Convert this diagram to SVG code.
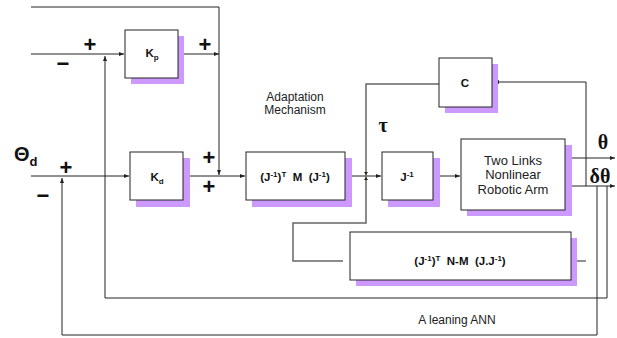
<svg xmlns="http://www.w3.org/2000/svg" width="617" height="338" viewBox="0 0 617 338">
<style>
.box{fill:#fff;stroke:#222;stroke-width:1}
.sh{fill:#cc99ff}
.ln{fill:none;stroke:#222;stroke-width:1}
.gl{fill:none;stroke:#666;stroke-width:1.5}
.lb{font-family:"Liberation Sans",Arial,sans-serif;font-weight:bold;font-size:11.5px;fill:#111;text-anchor:middle;white-space:pre}
.tx{font-family:"Liberation Sans",Arial,sans-serif;font-size:13px;fill:#222;text-anchor:middle}
.sm{font-family:"Liberation Sans",Arial,sans-serif;font-size:12px;fill:#222;text-anchor:middle}
.pm{font-family:"Liberation Sans",Arial,sans-serif;font-weight:bold;font-size:22px;fill:#111;text-anchor:middle}
.gr{font-family:"Liberation Serif","Times New Roman",serif;font-weight:bold;font-size:20px;fill:#111;text-anchor:middle}
</style>
<defs>
<marker id="ah" markerUnits="userSpaceOnUse" markerWidth="6" markerHeight="5" refX="5" refY="2" orient="auto">
<path d="M0,0 L5,2 L0,4 z" fill="#222"/>
</marker>
</defs>

<g id="connectors">
<path class="ln" d="M31,7 H219 V175" marker-end="url(#ah)"/>
<path class="ln" d="M31,54 H124" marker-end="url(#ah)"/>
<path class="ln" d="M178,54 H219" marker-end="url(#ah)"/>
<path class="ln" d="M607,186 V298 H105 V56" marker-end="url(#ah)"/>
<path class="ln" d="M31,176 H129" marker-end="url(#ah)"/>
<path class="ln" d="M183,176 H245" marker-end="url(#ah)"/>
<path class="ln" d="M597,186 V335 H62 V178" marker-end="url(#ah)"/>
<path class="ln" d="M345,176 H381" marker-end="url(#ah)"/>
<path class="gl" d="M439,84 H366 V223 H293 V261 H343"/>
<path class="ln" d="M433,176 H460" marker-end="url(#ah)"/>
<path class="ln" d="M565,158 H615" marker-end="url(#ah)"/>
<path class="ln" d="M565,186 H615" marker-end="url(#ah)"/>
<path class="ln" d="M586,186 V82 H494" marker-end="url(#ah)"/>
<path class="ln" d="M586,261 H572" marker-end="url(#ah)"/>
<path d="M364,172 L368,172 L366,175 z M364,180 L368,180 L366,177 z" fill="#222"/>
</g>

<g id="Kp">
<rect class="sh" x="131" y="36" width="53" height="48"/>
<rect class="box" x="125" y="30" width="53" height="48"/>
<text class="lb" x="152" y="57" font-size="12">K<tspan font-size="8" dy="3">p</tspan></text>
</g>

<g id="Kd">
<rect class="sh" x="136" y="158" width="54" height="49"/>
<rect class="box" x="130" y="152" width="53" height="48"/>
<text class="lb" x="157" y="181" font-size="12">K<tspan font-size="8" dy="3">d</tspan></text>
</g>

<g id="M">
<rect class="sh" x="252" y="158" width="100" height="49"/>
<rect class="box" x="246" y="152" width="99" height="48"/>
<text class="lb" x="295" y="181">(J<tspan font-size="8" dy="-4">-1</tspan><tspan dy="4">)</tspan><tspan font-size="8" dy="-4">T</tspan><tspan dy="4">  M  (J</tspan><tspan font-size="8" dy="-4">-1</tspan><tspan dy="4">)</tspan></text>
</g>

<g id="Jinv">
<rect class="sh" x="388" y="158" width="52" height="49"/>
<rect class="box" x="382" y="152" width="51" height="48"/>
<text class="lb" x="407" y="181">J<tspan font-size="8" dy="-4">-1</tspan></text>
</g>

<g id="C">
<rect class="sh" x="445" y="64" width="53" height="49"/>
<rect class="box" x="439" y="58" width="53" height="49"/>
<text class="lb" x="465" y="87" font-size="12">C</text>
</g>

<g id="Arm">
<rect class="sh" x="467" y="145" width="105" height="71"/>
<rect class="box" x="461" y="139" width="104" height="71"/>
<text class="tx" x="513" y="165">Two Links</text>
<text class="tx" x="513" y="179">Nonlinear</text>
<text class="tx" x="513" y="194">Robotic Arm</text>
</g>

<g id="NM">
<rect class="sh" x="356" y="238" width="221" height="48"/>
<rect class="box" x="350" y="232" width="221" height="48"/>
<text class="lb" x="460" y="265">(J<tspan font-size="8" dy="-4">-1</tspan><tspan dy="4">)</tspan><tspan font-size="8" dy="-4">T</tspan><tspan dy="4">  N-M  (J.J</tspan><tspan font-size="8" dy="-4">-1</tspan><tspan dy="4">)</tspan></text>
</g>

<g id="labels">
<text x="14" y="161" font-family="'Liberation Sans',Arial,sans-serif" font-weight="bold" font-size="20" fill="#111">Θ<tspan font-size="13" dy="5">d</tspan></text>
<text class="pm" x="90" y="52">+</text>
<text class="pm" x="63" y="71">−</text>
<text class="pm" x="205" y="52">+</text>
<text class="pm" x="66" y="175">+</text>
<text class="pm" x="43" y="203">−</text>
<text class="pm" x="209" y="165">+</text>
<text class="pm" x="209" y="194">+</text>
<text class="sm" x="295" y="101">Adaptation</text>
<text class="sm" x="295" y="114">Mechanism</text>
<text class="gr" x="383" y="132" font-size="19">τ</text>
<text class="gr" x="603" y="149">θ</text>
<text class="gr" x="600" y="183">δθ</text>
<text class="sm" x="457" y="324">A leaning ANN</text>
</g>
</svg>
